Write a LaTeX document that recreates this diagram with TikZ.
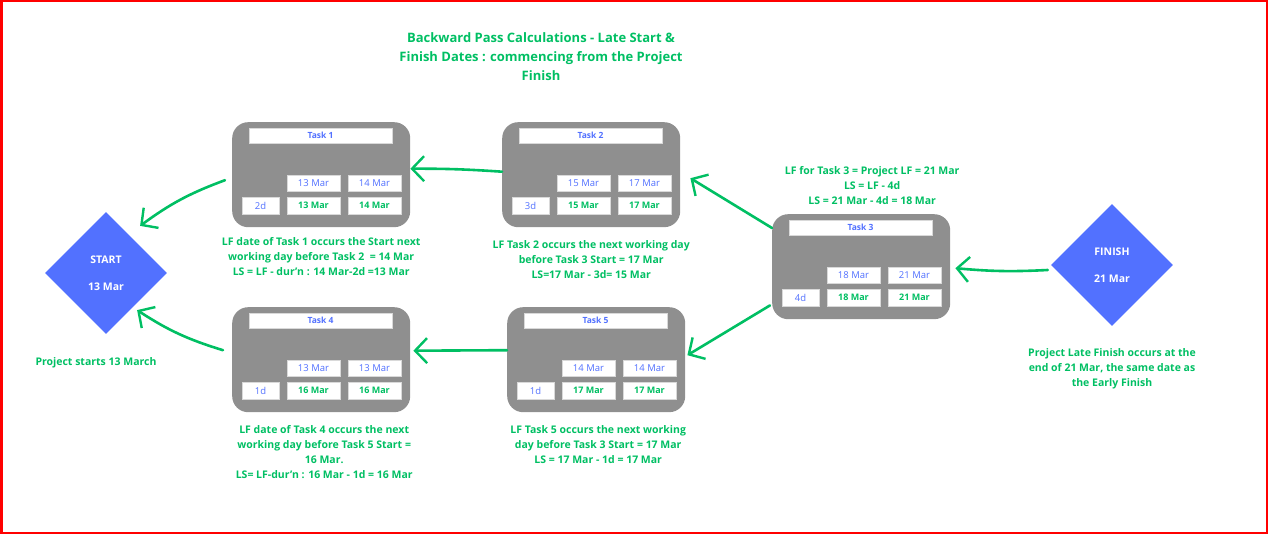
\documentclass[tikz,border=0pt]{standalone}
\usepackage{fontspec}
\setmainfont{Open Sans}
\usetikzlibrary{positioning,arrows.meta,shapes.geometric}
\definecolor{cpmgreen}{RGB}{0,191,99}
\definecolor{cpmblue}{RGB}{82,113,255}
\definecolor{cpmgrey}{RGB}{143,143,143}

\begin{document}
\begin{tikzpicture}[x=1pt, y=-1pt]
  \tikzset{
    task/.style={fill=cpmgrey, rounded corners=16pt, minimum width=178pt, minimum height=105pt, inner sep=0pt, anchor=north west},
    cellbox/.style={fill=white, draw=black!15, line width=0.4pt, inner sep=0pt, minimum height=16pt},
    namebox/.style={cellbox, minimum width=143pt, minimum height=15pt, text=cpmblue, font=\fontsize{8.5}{9}\selectfont\bfseries},
    earlybox/.style={cellbox, minimum width=53pt, text=cpmblue, font=\fontsize{9.5}{10}\selectfont},
    latebox/.style={cellbox, minimum width=53pt, minimum height=17pt, text=cpmgreen, font=\fontsize{9}{10}\selectfont\bfseries},
    durbox/.style={cellbox, minimum width=37pt, minimum height=17pt, text=cpmblue, font=\fontsize{9.5}{10}\selectfont},
    milestone/.style={diamond, aspect=1, fill=cpmblue, text=white, minimum width=122pt, minimum height=122pt, inner sep=0pt, align=center, font=\fontsize{10.5}{12}\selectfont\bfseries},
    note/.style={text=cpmgreen, align=center, inner sep=0pt, font=\fontsize{10.5}{15}\selectfont\bfseries},
    flow/.style={cpmgreen, line width=2.6pt, line cap=round, -{Straight Barb[length=12pt, width=25pt, line width=2.4pt]}}
  }

  \useasboundingbox (0,0) rectangle (1268,534);
  \draw[red, line width=2.5pt] (1.25,1.25) rectangle (1266.75,532.75);

  % title
  \node[text=cpmgreen, align=center, font=\fontsize{13}{19}\selectfont\bfseries] (title) at (541,57)
    {Backward Pass Calculations - Late Start \&\\Finish Dates : commencing from the Project\\Finish};

  % milestones
  \node[milestone] (start)  at (106,273)  {START\\[15pt]13 Mar};
  \node[milestone] (finish) at (1112,265) {FINISH\\[15pt]21 Mar};

  % Task 1
  \begin{scope}[shift={(232,122)}]
    \node[task] (t1) at (0,0) {};
    \node[namebox]  (t1name) at (88.5,13.5)  {Task 1};
    \node[earlybox] (t1es)   at (81.5,61)    {13 Mar};
    \node[earlybox] (t1ef)   at (142.5,61)   {14 Mar};
    \node[durbox]   (t1dur)  at (28.5,83.5)  {2d};
    \node[latebox]  (t1ls)   at (81.5,83.5)  {13 Mar};
    \node[latebox]  (t1lf)   at (142.5,83.5) {14 Mar};
  \end{scope}

  % Task 2
  \begin{scope}[shift={(502,122)}]
    \node[task] (t2) at (0,0) {};
    \node[namebox]  (t2name) at (88.5,13.5)  {Task 2};
    \node[earlybox] (t2es)   at (81.5,61)    {15 Mar};
    \node[earlybox] (t2ef)   at (142.5,61)   {17 Mar};
    \node[durbox]   (t2dur)  at (28.5,83.5)  {3d};
    \node[latebox]  (t2ls)   at (81.5,83.5)  {15 Mar};
    \node[latebox]  (t2lf)   at (142.5,83.5) {17 Mar};
  \end{scope}

  % Task 3
  \begin{scope}[shift={(772,214)}]
    \node[task] (t3) at (0,0) {};
    \node[namebox]  (t3name) at (88.5,13.5)  {Task 3};
    \node[earlybox] (t3es)   at (81.5,61)    {18 Mar};
    \node[earlybox] (t3ef)   at (142.5,61)   {21 Mar};
    \node[durbox]   (t3dur)  at (28.5,83.5)  {4d};
    \node[latebox]  (t3ls)   at (81.5,83.5)  {18 Mar};
    \node[latebox]  (t3lf)   at (142.5,83.5) {21 Mar};
  \end{scope}

  % Task 4
  \begin{scope}[shift={(232,307)}]
    \node[task] (t4) at (0,0) {};
    \node[namebox]  (t4name) at (88.5,13.5)  {Task 4};
    \node[earlybox] (t4es)   at (81.5,61)    {13 Mar};
    \node[earlybox] (t4ef)   at (142.5,61)   {13 Mar};
    \node[durbox]   (t4dur)  at (28.5,83.5)  {1d};
    \node[latebox]  (t4ls)   at (81.5,83.5)  {16 Mar};
    \node[latebox]  (t4lf)   at (142.5,83.5) {16 Mar};
  \end{scope}

  % Task 5
  \begin{scope}[shift={(507,307)}]
    \node[task] (t5) at (0,0) {};
    \node[namebox]  (t5name) at (88.5,13.5)  {Task 5};
    \node[earlybox] (t5es)   at (81.5,61)    {14 Mar};
    \node[earlybox] (t5ef)   at (142.5,61)   {14 Mar};
    \node[durbox]   (t5dur)  at (28.5,83.5)  {1d};
    \node[latebox]  (t5ls)   at (81.5,83.5)  {17 Mar};
    \node[latebox]  (t5lf)   at (142.5,83.5) {17 Mar};
  \end{scope}

  % notes
  \node[note, below=10pt of t1] (t1note) {LF date of Task 1 occurs the Start next\\working day before Task 2 \ = 14 Mar\\LS = LF - dur’n : 14 Mar-2d =13 Mar};
  \node[note, below=13pt of t2] (t2note) {LF Task 2 occurs the next working day\\before Task 3 Start = 17 Mar\\LS=17 Mar - 3d= 15 Mar};
  \node[note, above=9pt of t3, xshift=11pt] (t3note) {LF for Task 3 = Project LF = 21 Mar\\LS = LF - 4d\\LS = 21 Mar - 4d = 18 Mar};
  \node[note, below=13pt of t4, xshift=3pt] (t4note) {LF date of Task 4 occurs the next\\working day before Task 5 Start =\\16 Mar.\\LS= LF-dur’n : 16 Mar - 1d = 16 Mar};
  \node[note, below=13pt of t5, xshift=2pt] (t5note) {LF Task 5 occurs the next working\\day before Task 3 Start = 17 Mar\\LS = 17 Mar - 1d = 17 Mar};
  \node[note, below=23pt of start, xshift=-10pt] (startnote) {Project starts 13 March};
  \node[note, below=22pt of finish] (finishnote) {Project Late Finish occurs at the\\end of 21 Mar, the same date as\\the Early Finish};

  % backward pass arrows
  \draw[flow] ([xshift=-3pt, yshift=-5pt]finish.west) to[bend left=4] ([xshift=5pt, yshift=-1.5pt]t3.east);
  \draw[flow] ([yshift=-14pt]t3.north west) -- ([xshift=10pt, yshift=-3.5pt]t2.east);
  \draw[flow] ([xshift=-2pt, yshift=14pt]t3.south west) -- ([xshift=2pt, yshift=4.5pt]t5.east);
  \draw[flow] ([yshift=3pt]t2.west) to[bend right=2] ([yshift=6pt]t1.east);
  \draw[flow] ([yshift=9.5pt]t5.west) -- ([xshift=3pt, yshift=9pt]t4.east);
  \draw[flow] ([xshift=-7pt, yshift=-5.5pt]t1.west) to[bend right=8] ([xshift=3.5pt, yshift=16.5pt]start.north east);
  \draw[flow] ([xshift=-9pt, yshift=9.5pt]t4.west) to[bend left=8] ([xshift=0.5pt, yshift=-6.5pt]start.south east);
\end{tikzpicture}
\end{document}
